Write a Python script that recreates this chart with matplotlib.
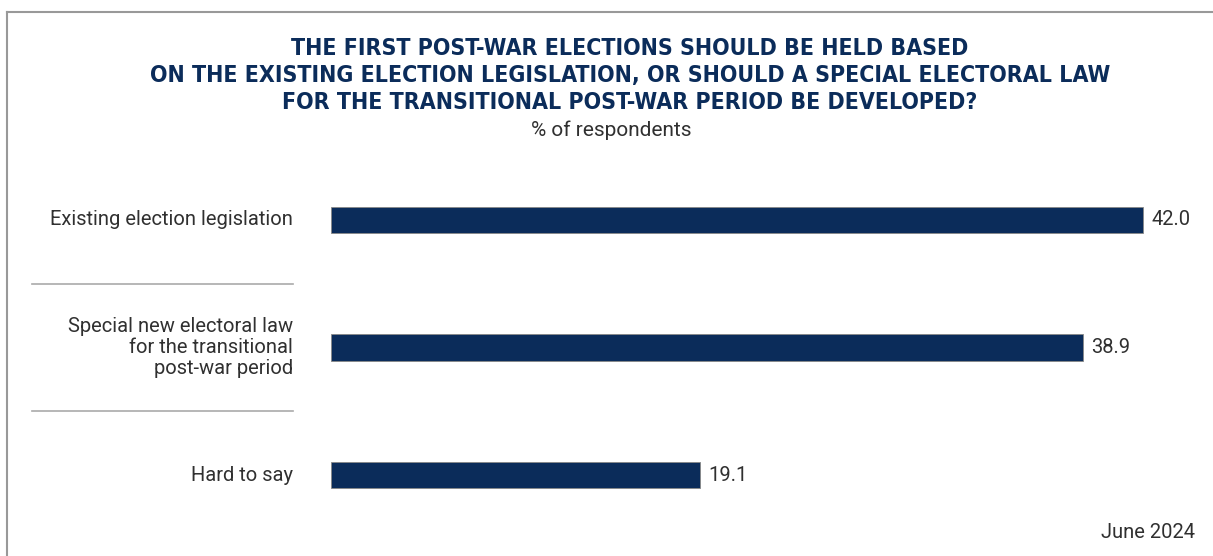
import matplotlib.pyplot as plt
from matplotlib.transforms import blended_transform_factory

categories = ['Existing election legislation',
              'Special new electoral law\nfor the transitional\npost-war period',
              'Hard to say']
values = [42.0, 38.9, 19.1]
title = ('THE FIRST POST-WAR ELECTIONS SHOULD BE HELD BASED\n'
         'ON THE EXISTING ELECTION LEGISLATION, OR SHOULD A SPECIAL ELECTORAL LAW\n'
         'FOR THE TRANSITIONAL POST-WAR PERIOD BE DEVELOPED?')
subtitle = '% of respondents'
note = 'June 2024'

navy = '#0b2c5a'
txt = '#303030'
body = ['Roboto', 'DejaVu Sans']

fig = plt.figure(figsize=(12.13, 5.56), dpi=100)
fig.patch.set_facecolor('white')

# frame lines on top and left only
fig.add_artist(plt.Line2D([7 / 1213, 7 / 1213], [0, 1 - 12 / 556],
                          color='#999999', lw=1.5))
fig.add_artist(plt.Line2D([7 / 1213, 1], [1 - 12 / 556, 1 - 12 / 556],
                          color='#999999', lw=1.5))

fig.text(630 / 1213, 1 - 37 / 556, title, ha='center', va='top',
         color=navy, fontsize=16.6, fontweight='bold', family='DejaVu Sans',
         fontstretch='condensed', linespacing=1.22)
fig.text(611 / 1213, 1 - 130 / 556, subtitle, ha='center', va='center',
         color=txt, fontsize=15, family=body)

ax = fig.add_axes([331 / 1213, 0.031, 1 - 331 / 1213, 0.688])
y = list(range(len(categories)))
ax.barh(y, values, height=0.21, color=navy, edgecolor='#888888', linewidth=0.6)
ax.set_xlim(0, 882 / 19.33)
ax.set_ylim(len(categories) - 0.5, -0.5)
ax.axis('off')

for yi, v in zip(y, values):
    ax.annotate(f'{v:.1f}', (v, yi), xytext=(6, 0), textcoords='offset points',
                ha='left', va='center', color=txt, fontsize=14.5, family=body)

lab_tr = blended_transform_factory(fig.transFigure, ax.transData)
for yi, c in zip(y, categories):
    ax.text(293 / 1213, yi, c, transform=lab_tr, ha='right', va='center',
            color=txt, fontsize=14.5, family=body, linespacing=1.12)

for k in range(len(categories) - 1):
    ax.plot([32 / 1213, 293 / 1213], [k + 0.5, k + 0.5], transform=lab_tr,
            color='#aaaaaa', lw=1.2, clip_on=False)

fig.text(1195 / 1213, 1 - 533 / 556, note, ha='right', va='center', color=txt,
         fontsize=14.5, family=body)

fig.savefig('out.png', dpi=100, facecolor='white')
